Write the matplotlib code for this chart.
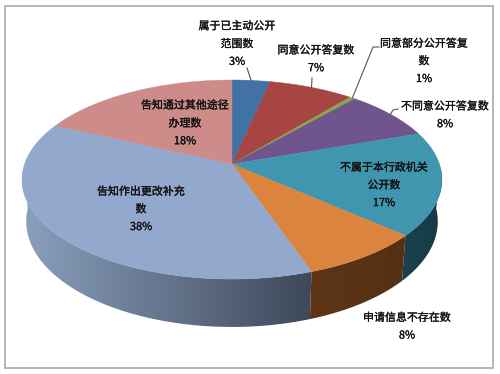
import numpy as np
import matplotlib
matplotlib.use('Agg')
import matplotlib.pyplot as plt
import matplotlib.patheffects as pe
from matplotlib.colors import LinearSegmentedColormap
from matplotlib.patches import Rectangle, Polygon

plt.rcParams['font.family'] = ['Noto Sans CJK SC', 'DejaVu Sans']

# shares, the printed labels are rounded differently
shares = [3.4, 7.6, 0.5, 8.2, 16.8, 8.2, 37.2, 18.1]
labels = ['属于已主动公开\n范围数\n3%', '同意公开答复数\n7%', '同意部分公开答复\n数\n1%',
          '不同意公开答复数\n8%', '不属于本行政机关\n公开数\n17%', '申请信息不存在数\n8%',
          '告知作出更改补充\n数\n38%', '告知通过其他途径\n办理数\n18%']
colors = ['#4271A6', '#A64541', '#8BA848', '#70548D', '#3F96AE', '#DB843D', '#92A8CD', '#CD8C89']
label_x = [237, 316, 424, 445, 384, 407, 141, 185]
label_y = [44, 59, 61, 115, 185, 326.5, 209, 123]
# slice index -> bend points of the leader, from the label towards the pie
leaders = {0: [(247, 68)], 1: [(312, 78)], 2: [(379, 47), (373, 47)], 3: [(398, 109), (393, 110)]}

cx, cy = 232, 164
rx, ry = 207.4, 97.1
persp = 0.156


def top_point(theta):
    # theta clockwise from the back of the pie, with a perspective squeeze
    s = 1 / (1 + persp * np.cos(theta))
    return cx + rx * np.sin(theta) * s, cy - ry * np.cos(theta) * s


def bottom_point(theta):
    x, y = top_point(theta)
    return cx + (x - cx) * 0.98, cy + (y - cy) * 1.06 + 41


fig = plt.figure(figsize=(5, 3.74), dpi=100)
ax = fig.add_axes([0, 0, 1, 1])
ax.axis('off')
ax.add_patch(Rectangle((4.5, 5.5), 488.5, 362.5, fc='white', ec='#A9A9A9', lw=1.2))

edges = np.radians(np.cumsum([0] + shares) * 3.6)

# side wall: gradient image from left to right, clipped to each slice's wall
side_start = np.radians(92)
side_end = np.radians(268)
shades = {4: ('#1A424E', '#183A45'), 5: ('#5E3517', '#553014'), 6: ('#8AA0BE', '#3E4859')}
for i, pair in shades.items():
    th = np.linspace(max(edges[i], side_start), min(edges[i + 1], side_end), 150)
    tx, ty = top_point(th)
    bx, by = bottom_point(th)
    xs = np.r_[tx, bx[::-1]]
    ys = np.r_[ty, by[::-1]]
    cmap = LinearSegmentedColormap.from_list('side', pair)
    im = ax.imshow(np.linspace(0, 1, 256)[None, :], cmap=cmap, aspect='auto', zorder=1.5,
                   extent=[xs.min(), xs.max(), ys.max(), ys.min()], interpolation='bilinear')
    clip = Polygon(np.c_[xs, ys], closed=True, transform=ax.transData, fc='none', ec='none')
    ax.add_patch(clip)
    im.set_clip_path(clip)

ax.set_xlim(0, 500)
ax.set_ylim(374, 0)

# top surface
for i in range(len(shares)):
    th = np.linspace(edges[i], edges[i + 1], 120)
    x, y = top_point(th)
    ax.fill(np.r_[cx, x], np.r_[cy, y], color=colors[i], lw=0.3, zorder=2)

for i in range(len(labels)):
    ax.text(label_x[i], label_y[i], labels[i], ha='center', va='center', fontsize=7.9,
            linespacing=1.95, color='#111111', zorder=4,
            path_effects=[pe.withStroke(linewidth=0.2, foreground='#111111')])

for i, bends in leaders.items():
    ex, ey = top_point((edges[i] + edges[i + 1]) / 2)
    xs = [p[0] for p in bends] + [ex]
    ys = [p[1] for p in bends] + [ey]
    ax.plot(xs, ys, color='#555555', lw=0.8, zorder=3)

fig.savefig('out.png', dpi=100)
